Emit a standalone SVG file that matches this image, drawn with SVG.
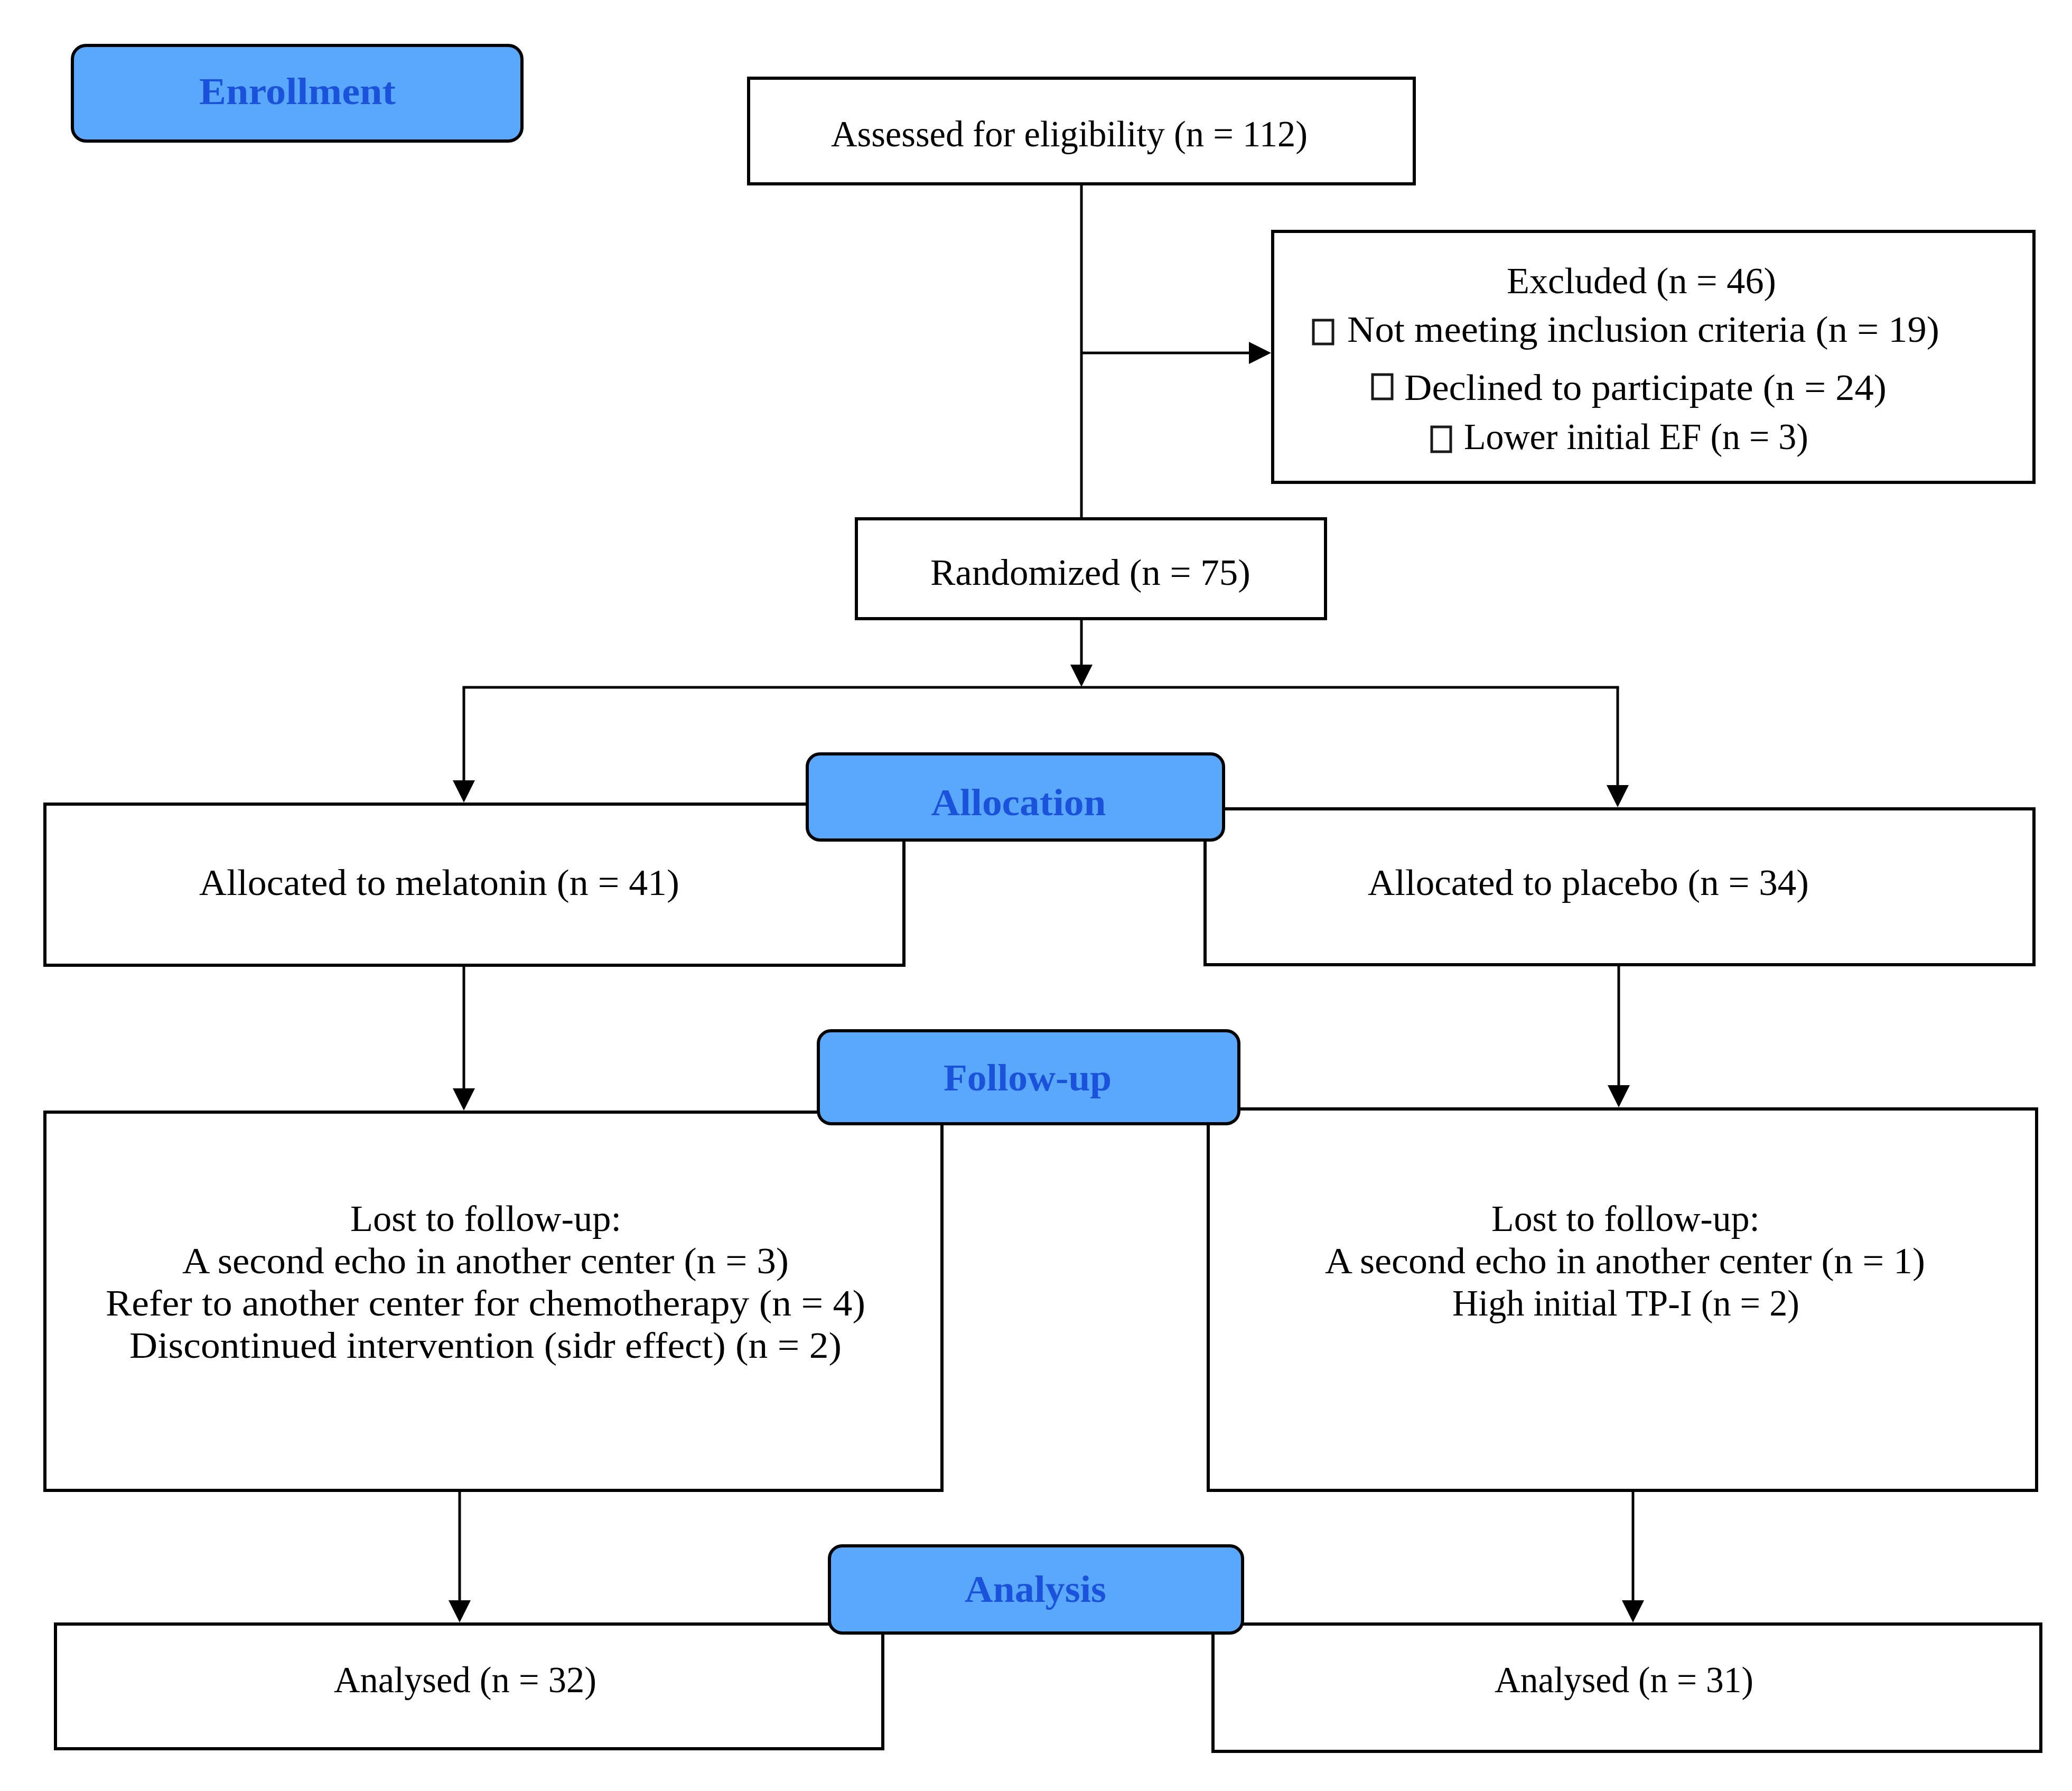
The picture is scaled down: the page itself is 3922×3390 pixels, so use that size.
<svg xmlns="http://www.w3.org/2000/svg" width="3922" height="3390" viewBox="0 0 3922 3390">
<style>
.box{fill:#ffffff;stroke:#000000;stroke-width:6}
.lab{fill:#5aa8fc;stroke:#000000;stroke-width:6}
.t{font-family:"Liberation Serif","Times New Roman",serif;font-size:70px;fill:#000000}
.lt{font-family:"Liberation Serif","Times New Roman",serif;font-size:72px;font-weight:bold;fill:#1a52dc;text-anchor:middle}
.c{fill:none;stroke:#000000;stroke-width:5}
.tofu{fill:none;stroke:#1a1a1a;stroke-width:5}
</style>
<defs>
<marker id="ah" markerUnits="userSpaceOnUse" markerWidth="42" markerHeight="42" refX="32" refY="21" orient="auto">
<path d="M0,0 L42,21 L0,42 z" fill="#000000"/>
</marker>
</defs>
<rect width="3922" height="3390" fill="#ffffff"/>
<g id="connectors">
<line class="c" x1="2047" y1="348" x2="2047" y2="982"/>
<line class="c" x1="2047" y1="668" x2="2396" y2="668" marker-end="url(#ah)"/>
<line class="c" x1="2047" y1="1171" x2="2047" y2="1290" marker-end="url(#ah)"/>
<line class="c" x1="875.5" y1="1301" x2="3064.5" y2="1301"/>
<line class="c" x1="878" y1="1301" x2="878" y2="1509" marker-end="url(#ah)"/>
<line class="c" x1="3062" y1="1301" x2="3062" y2="1518" marker-end="url(#ah)"/>
<line class="c" x1="878" y1="1827" x2="878" y2="2092" marker-end="url(#ah)"/>
<line class="c" x1="3064" y1="1826" x2="3064" y2="2086" marker-end="url(#ah)"/>
<line class="c" x1="870" y1="2821" x2="870" y2="3061" marker-end="url(#ah)"/>
<line class="c" x1="3091" y1="2821" x2="3091" y2="3061" marker-end="url(#ah)"/>
</g>
<g id="assessed">
<rect class="box" x="1417" y="148" width="1260" height="200"/>
<text class="t" x="1573" y="277" textLength="902" lengthAdjust="spacingAndGlyphs">Assessed for eligibility (n = 112)</text>
</g>
<g id="excluded">
<rect class="box" x="2409" y="438" width="1441" height="475"/>
<text class="t" x="2852" y="555" textLength="510" lengthAdjust="spacingAndGlyphs">Excluded (n = 46)</text>
<rect class="tofu" x="2486" y="606" width="37" height="45"/>
<text class="t" x="2550" y="647" textLength="1121" lengthAdjust="spacingAndGlyphs">Not meeting inclusion criteria (n = 19)</text>
<rect class="tofu" x="2598" y="709" width="37" height="46"/>
<text class="t" x="2658" y="757" textLength="913" lengthAdjust="spacingAndGlyphs">Declined to participate (n = 24)</text>
<rect class="tofu" x="2710" y="808" width="36" height="47"/>
<text class="t" x="2771" y="850" textLength="652" lengthAdjust="spacingAndGlyphs">Lower initial EF (n = 3)</text>
</g>
<g id="randomized">
<rect class="box" x="1621" y="982" width="888" height="189"/>
<text class="t" x="1761" y="1107" textLength="606" lengthAdjust="spacingAndGlyphs">Randomized (n = 75)</text>
</g>
<g id="melatonin">
<rect class="box" x="85" y="1522" width="1626" height="305"/>
<text class="t" x="377" y="1694" textLength="909" lengthAdjust="spacingAndGlyphs">Allocated to melatonin (n = 41)</text>
</g>
<g id="placebo">
<rect class="box" x="2281" y="1531" width="1569" height="295"/>
<text class="t" x="2589" y="1694" textLength="835" lengthAdjust="spacingAndGlyphs">Allocated to placebo (n = 34)</text>
</g>
<g id="lost-melatonin">
<rect class="box" x="85" y="2105" width="1698" height="716"/>
<text class="t" x="663" y="2330" textLength="513" lengthAdjust="spacingAndGlyphs">Lost to follow-up:</text>
<text class="t" x="345" y="2410" textLength="1148" lengthAdjust="spacingAndGlyphs">A second echo in another center (n = 3)</text>
<text class="t" x="200" y="2490" textLength="1438" lengthAdjust="spacingAndGlyphs">Refer to another center for chemotherapy (n = 4)</text>
<text class="t" x="245" y="2570" textLength="1348" lengthAdjust="spacingAndGlyphs">Discontinued intervention (sidr effect) (n = 2)</text>
</g>
<g id="lost-placebo">
<rect class="box" x="2287" y="2099" width="1568" height="722"/>
<text class="t" x="2823" y="2330" textLength="508" lengthAdjust="spacingAndGlyphs">Lost to follow-up:</text>
<text class="t" x="2508" y="2410" textLength="1136" lengthAdjust="spacingAndGlyphs">A second echo in another center (n = 1)</text>
<text class="t" x="2749" y="2490" textLength="657" lengthAdjust="spacingAndGlyphs">High initial TP-I (n = 2)</text>
</g>
<g id="analysed-melatonin">
<rect class="box" x="105" y="3074" width="1566" height="236"/>
<text class="t" x="632" y="3203" textLength="497" lengthAdjust="spacingAndGlyphs">Analysed (n = 32)</text>
</g>
<g id="analysed-placebo">
<rect class="box" x="2296" y="3074" width="1567" height="241"/>
<text class="t" x="2829" y="3203" textLength="490" lengthAdjust="spacingAndGlyphs">Analysed (n = 31)</text>
</g>
<g id="enrollment">
<rect class="lab" x="137" y="86" width="851" height="181" rx="26" ry="26"/>
<text class="lt" x="563" y="197" textLength="372" lengthAdjust="spacingAndGlyphs">Enrollment</text>
</g>
<g id="allocation">
<rect class="lab" x="1528" y="1427" width="788" height="163" rx="24" ry="24"/>
<text class="lt" x="1928" y="1543" textLength="331" lengthAdjust="spacingAndGlyphs">Allocation</text>
</g>
<g id="follow-up">
<rect class="lab" x="1549" y="1951" width="796" height="176" rx="24" ry="24"/>
<text class="lt" x="1945" y="2064" textLength="318" lengthAdjust="spacingAndGlyphs">Follow-up</text>
</g>
<g id="analysis">
<rect class="lab" x="1570" y="2926" width="782" height="165" rx="24" ry="24"/>
<text class="lt" x="1960" y="3032" textLength="268" lengthAdjust="spacingAndGlyphs">Analysis</text>
</g>
</svg>
